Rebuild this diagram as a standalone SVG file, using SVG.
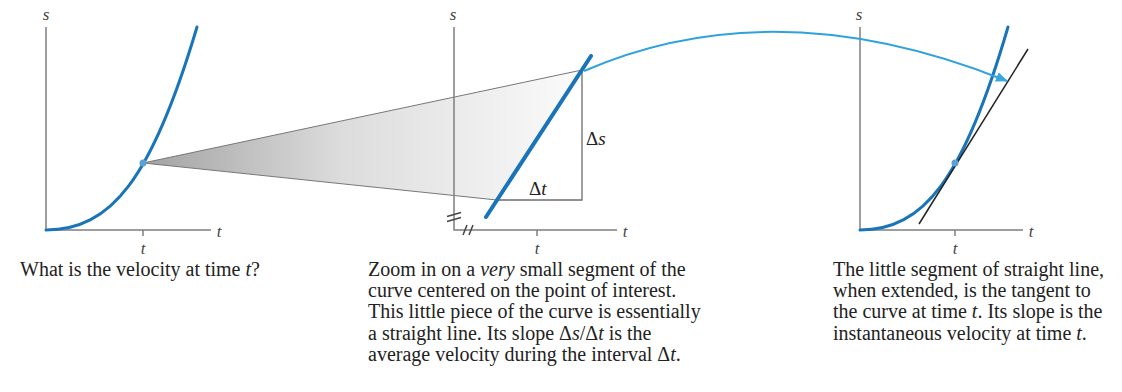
<svg xmlns="http://www.w3.org/2000/svg" width="1122" height="392" viewBox="0 0 1122 392">
<style>
.axis{stroke:#7f7f7f;stroke-width:1.5;fill:none}
.curve{stroke:#1a74b9;stroke-width:3;fill:none;stroke-linecap:round}
.lbl{font-family:"Liberation Serif",serif;font-style:italic;font-size:17px;fill:#444}
.cap{font-family:"Liberation Serif",serif;font-size:20px;fill:#222}
.dlt{font-family:"Liberation Serif",serif;font-size:19px;fill:#222}
.pt{fill:#5a9fd6}
.brk{stroke:#444;stroke-width:1.5}
</style>
<defs>
<linearGradient id="wedge" gradientUnits="userSpaceOnUse" x1="143" y1="0" x2="582" y2="0">
<stop offset="0" stop-color="#a2a2a2"/>
<stop offset="0.45" stop-color="#dcdcdc"/>
<stop offset="1" stop-color="#fbfbfb"/>
</linearGradient>
<marker id="ah" viewBox="0 0 12 10" refX="11" refY="5" markerWidth="12" markerHeight="10" markerUnits="userSpaceOnUse" orient="auto">
<path d="M0,0 L12,5 L0,10 Z" fill="#3aa6de"/>
</marker>
</defs>

<g id="zoom-wedge">
<polygon points="143,163 582,70 497,200" fill="url(#wedge)"/>
<line x1="143" y1="163" x2="582" y2="70" stroke="#777" stroke-width="1"/>
<line x1="143" y1="163" x2="497" y2="200" stroke="#777" stroke-width="1"/>
</g>

<g id="panel1">
<path class="axis" d="M46,27 V230 H211"/>
<line class="axis" x1="143" y1="230" x2="143" y2="236"/>
<text class="lbl" x="46" y="20" text-anchor="middle">s</text>
<text class="lbl" x="219" y="237" text-anchor="middle">t</text>
<text class="lbl" x="143" y="254" text-anchor="middle">t</text>
<path class="curve" d="M46,230 C111,230 151.7,179.3 197,27"/>
<circle class="pt" cx="143" cy="163" r="3.5"/>
</g>

<g id="panel2">
<path class="axis" d="M454,27 V230 H617"/>
<line class="axis" x1="537" y1="230" x2="537" y2="236"/>
<line class="brk" x1="447" y1="216.5" x2="461" y2="212.5"/>
<line class="brk" x1="447" y1="221.5" x2="461" y2="217.5"/>
<line class="brk" x1="463" y1="235" x2="467" y2="225"/>
<line class="brk" x1="469" y1="235" x2="473" y2="225"/>
<text class="lbl" x="453" y="20" text-anchor="middle">s</text>
<text class="lbl" x="625" y="237" text-anchor="middle">t</text>
<text class="lbl" x="537" y="254" text-anchor="middle">t</text>
<path d="M497,200 H582 V70" stroke="#6e6e6e" stroke-width="1.3" fill="none"/>
<line x1="486" y1="217" x2="591" y2="56" stroke="#1a74b9" stroke-width="4" stroke-linecap="round"/>
<text class="dlt" x="586" y="145">Δ<tspan font-style="italic">s</tspan></text>
<text class="dlt" x="529" y="195">Δ<tspan font-style="italic">t</tspan></text>
</g>

<g id="panel3">
<path class="axis" d="M860,27 V230 H1023"/>
<line class="axis" x1="955" y1="230" x2="955" y2="236"/>
<text class="lbl" x="859" y="20" text-anchor="middle">s</text>
<text class="lbl" x="1031" y="237" text-anchor="middle">t</text>
<text class="lbl" x="955" y="254" text-anchor="middle">t</text>
<path class="curve" d="M860,230 C923.6,230 963.6,179.3 1008,27"/>
<line x1="919" y1="224" x2="1028" y2="49" stroke="#222" stroke-width="1.5"/>
<circle class="pt" cx="955" cy="163" r="3.5"/>
</g>

<g id="connectors">
<path d="M584,71 Q775,-12 1007,81" stroke="#2fa2dc" stroke-width="2" fill="none" marker-end="url(#ah)"/>
</g>

<g id="captions">
<text class="cap" x="20" y="276">What is the velocity at time <tspan font-style="italic">t</tspan>?</text>
<text class="cap" x="368" y="276">Zoom in on a <tspan font-style="italic">very</tspan> small segment of the</text>
<text class="cap" x="368" y="297">curve centered on the point of interest.</text>
<text class="cap" x="368" y="318">This little piece of the curve is essentially</text>
<text class="cap" x="368" y="339.5">a straight line. Its slope Δ<tspan font-style="italic">s</tspan>/Δ<tspan font-style="italic">t</tspan> is the</text>
<text class="cap" x="368" y="361">average velocity during the interval Δ<tspan font-style="italic">t</tspan>.</text>
<text class="cap" x="833" y="276">The little segment of straight line,</text>
<text class="cap" x="833" y="297">when extended, is the tangent to</text>
<text class="cap" x="833" y="318">the curve at time <tspan font-style="italic">t</tspan>. Its slope is the</text>
<text class="cap" x="833" y="339.5">instantaneous velocity at time <tspan font-style="italic">t</tspan>.</text>
</g>
</svg>
